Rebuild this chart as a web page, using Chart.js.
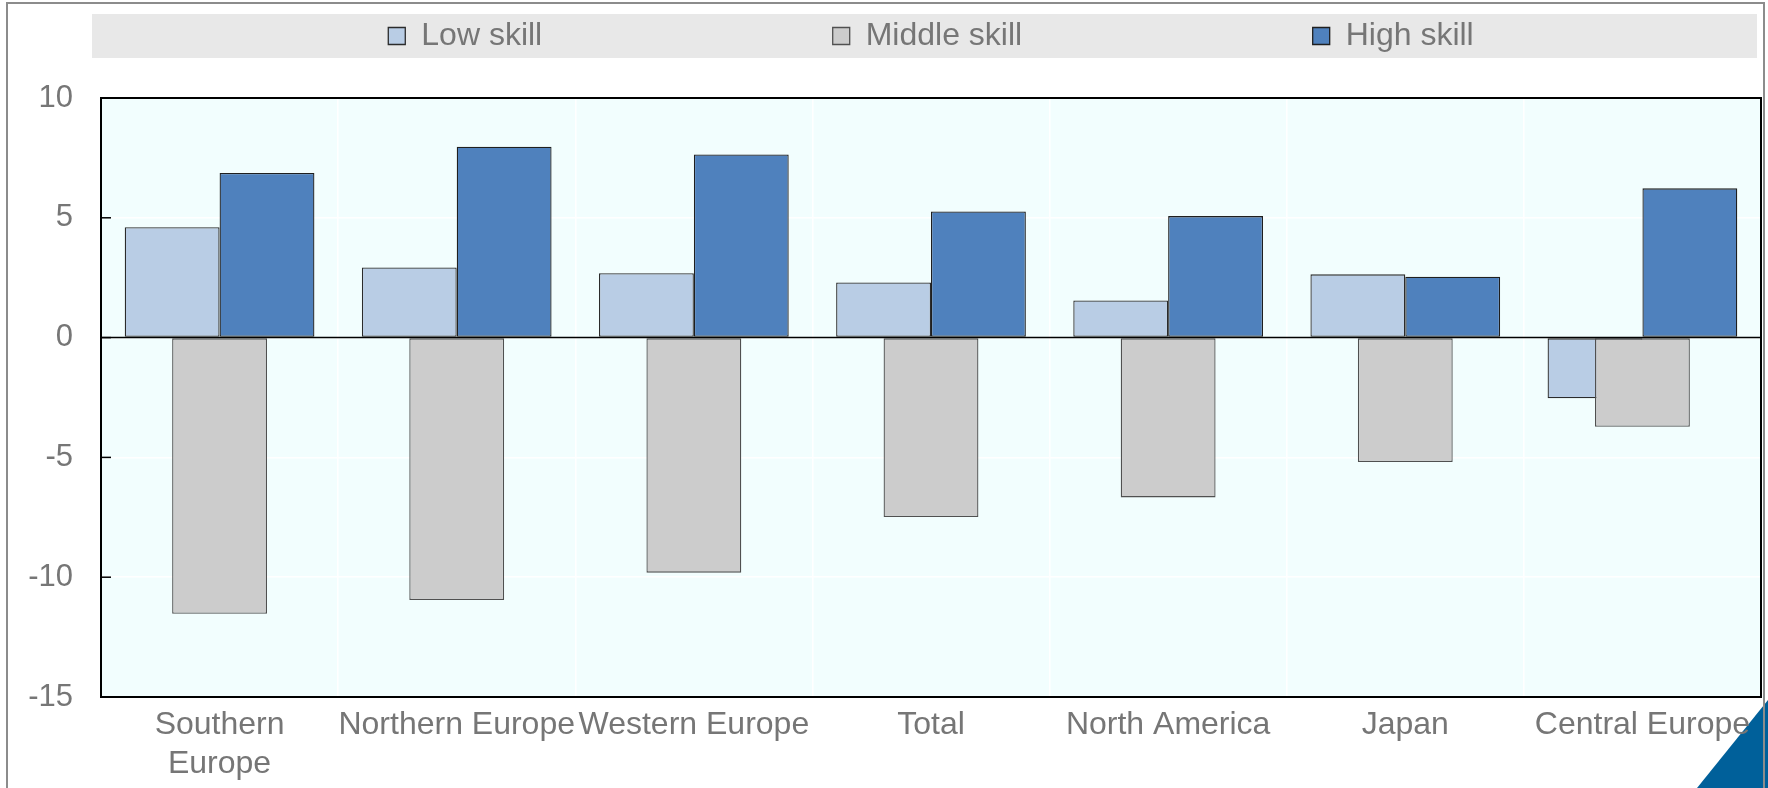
<!DOCTYPE html>
<html>
<head>
<meta charset="utf-8">
<script src="https://cdn.jsdelivr.net/npm/chart.js@4.4.0/dist/chart.umd.min.js"></script>
<style>
body{margin:0;background:#fff;}
canvas{display:block;}
</style>
</head>
<body>
<canvas id="skillChart" width="1768" height="788"></canvas>
<script>
// ========== Data ==========
const categories=[['Southern','Europe'],'Northern Europe','Western Europe','Total','North America','Japan','Central Europe'];
const seriesNames=['Low skill','Middle skill','High skill'];
const lowSkill=[4.61,2.93,2.69,2.30,1.55,2.64,-2.53];
const middleSkill=[-11.53,-10.95,-9.81,-7.49,-6.67,-5.19,-3.72];
const highSkill=[6.87,7.97,7.64,5.26,5.07,2.54,6.23];
const yMin=-15, yMax=10, yStep=5;

// ========== Look ==========
const FONT="'Liberation Sans', Arial, sans-serif";
const TXT='#767676';
const colors=['#b9cde5','#cccccc','#4f81bd'];
const borders=['#2b2b2b','#505050','#1f1f1f'];
const LEGEND_GAP=' '.repeat(32);

// ========== Plugins ==========
const legendMargin={
    id:'legendMargin',
    beforeInit(chart){
        const fit=chart.legend.fit;
        chart.legend.fit=function(){fit.call(this); this.height+=36;};
    }
};

const decor={
    id:'decor',
    beforeDraw(chart){
        const {ctx,chartArea:a,width,height}=chart, lg=chart.legend;
        ctx.save();
        // corner triangle
        ctx.fillStyle='#00609a';
        ctx.beginPath(); ctx.moveTo(width-71,height); ctx.lineTo(width,height); ctx.lineTo(width,height-88); ctx.closePath(); ctx.fill();
        // frame
        ctx.strokeStyle='#8c8c8c'; ctx.lineWidth=2;
        ctx.beginPath(); ctx.moveTo(7,height); ctx.lineTo(7,3); ctx.lineTo(width-4,3); ctx.lineTo(width-4,height); ctx.stroke();
        // legend band
        ctx.fillStyle='#e8e8e8';
        ctx.fillRect(a.left-9,lg.top,a.right-4-(a.left-9),44);
        // plot background
        ctx.fillStyle='#f2fefe';
        ctx.fillRect(a.left,a.top,a.right-a.left,a.bottom-a.top);
        ctx.restore();
    },
    afterDatasetsDraw(chart){
        const {ctx,chartArea:a}=chart, y=chart.scales.y;
        ctx.save();
        ctx.strokeStyle='#000';
        // zero line
        const y0=y.getPixelForValue(0);
        ctx.lineWidth=1.5;
        ctx.beginPath(); ctx.moveTo(a.left,y0); ctx.lineTo(a.right,y0); ctx.stroke();
        // inward ticks
        y.ticks.forEach(t=>{
            const py=y.getPixelForValue(t.value);
            ctx.beginPath(); ctx.moveTo(a.left,py); ctx.lineTo(a.left+10,py); ctx.stroke();
        });
        // plot border
        ctx.lineWidth=2;
        ctx.strokeRect(a.left,a.top,a.right-a.left,a.bottom-a.top);
        ctx.restore();
    }
};

// ========== Chart ==========
// low/high sit side by side, middle is centred over the category on top of them
const mkSet=(i,data,grouped,order)=>({
    label:seriesNames[i],data,grouped,order,
    backgroundColor:colors[i],borderColor:borders[i],borderWidth:1.3,borderSkipped:false,
    categoryPercentage:grouped?0.8:0.4,barPercentage:1
});

new Chart(document.getElementById('skillChart'),{
    type:'bar',
    data:{
        labels:categories,
        datasets:[mkSet(0,lowSkill,true,1),mkSet(1,middleSkill,false,0),mkSet(2,highSkill,true,1)]
    },
    options:{
        responsive:false,animation:false,
        layout:{padding:{left:0,right:7,top:14,bottom:0}},
        plugins:{
            tooltip:{enabled:false},
            legend:{
                position:'top',fullSize:false,
                labels:{
                    color:TXT,font:{family:FONT,size:32},boxWidth:17,boxHeight:17,padding:6,
                    generateLabels(chart){
                        const items=Chart.defaults.plugins.legend.labels.generateLabels(chart)
                            .sort((a,b)=>a.datasetIndex-b.datasetIndex);
                        items.forEach((it,i)=>{if(i<items.length-1) it.text+=LEGEND_GAP;});
                        return items;
                    }
                }
            }
        },
        scales:{
            x:{
                grid:{color:'#ffffff',lineWidth:1.5,drawTicks:false},
                border:{display:false},
                ticks:{color:TXT,font:{family:FONT,size:32,lineHeight:1.22},padding:9,maxRotation:0,minRotation:0,autoSkip:false},
                afterFit:s=>{s.height=91;}
            },
            y:{
                min:yMin,max:yMax,
                grid:{color:'#ffffff',lineWidth:1.5,drawTicks:false},
                border:{display:false},
                ticks:{stepSize:yStep,color:TXT,font:{family:FONT,size:31},padding:28},
                afterFit:s=>{s.width=101;}
            }
        }
    },
    plugins:[legendMargin,decor]
});
</script>
</body>
</html>
